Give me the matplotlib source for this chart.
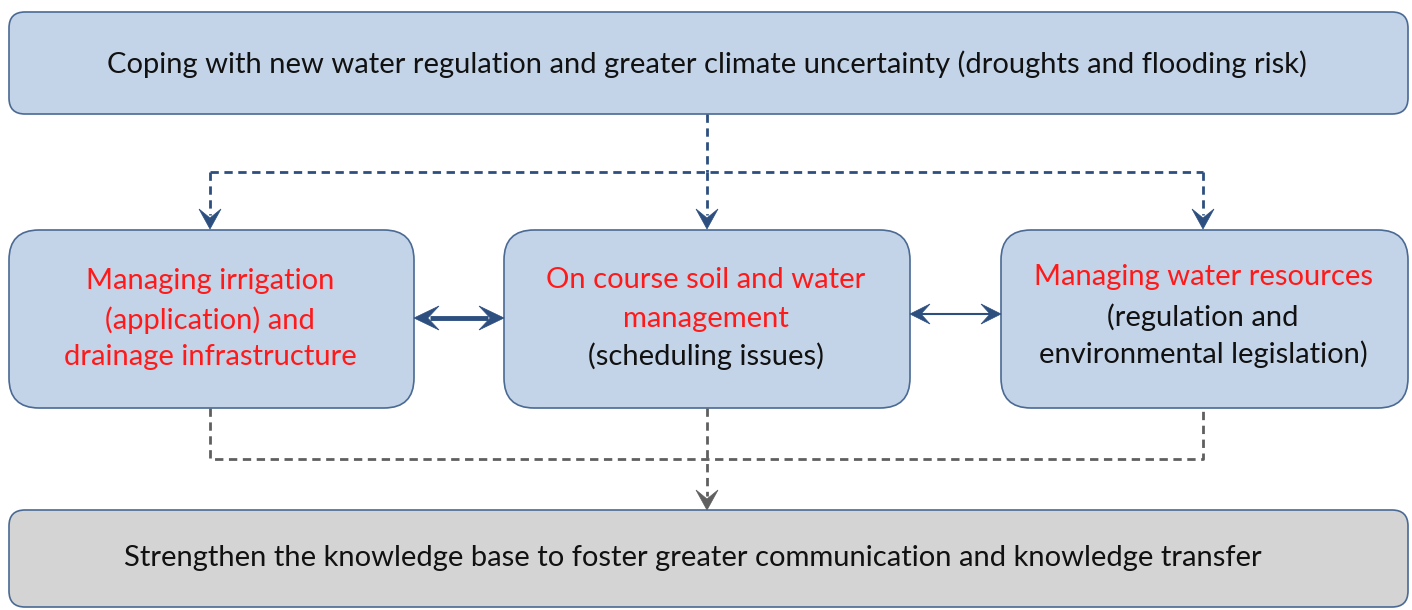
import matplotlib
matplotlib.use("Agg")
import matplotlib.pyplot as plt
from matplotlib.patches import FancyBboxPatch, Polygon

plt.rcParams['font.family'] = ['Lato', 'DejaVu Sans']

# ── 文本数据 ──────────────────────────────────────────────
top_text = "Coping with new water regulation and greater climate uncertainty (droughts and flooding risk)"
bottom_text = "Strengthen the knowledge base to foster greater communication and knowledge transfer"

# 中间三个框：(文本, 颜色) 行列表
left_lines = [("Managing irrigation", "red"), ("(application) and", "red"),
              ("drainage infrastructure", "red")]
mid_lines = [("On course soil and water", "red"), ("management", "red"),
             ("(scheduling issues)", "black")]
right_lines = [("Managing water resources", "red"), ("(regulation and", "black"),
               ("environmental legislation)", "black")]

BLUE_FILL = "#c4d4e8"
GRAY_FILL = "#d4d4d4"
EDGE = "#4a6a94"
ARROW_BLUE = "#2c4f80"
ARROW_GRAY = "#5f5f5f"

W, H = 1412, 610
fig = plt.figure(figsize=(W / 100, H / 100), dpi=100)
ax = fig.add_axes([0, 0, 1, 1])
ax.set_xlim(0, W)
ax.set_ylim(H, 0)
ax.axis("off")


def box(x0, y0, x1, y1, fill, r):
    p = FancyBboxPatch((x0, y0), x1 - x0, y1 - y0,
                       boxstyle=f"round,pad=0,rounding_size={r}",
                       fc=fill, ec=EDGE, lw=1.2, zorder=2)
    ax.add_patch(p)


def head(x, y, dx, dy, color, size=20, width=11):
    # stealth 样式箭头，尖端在 (x, y)，方向 (dx, dy)
    px, py = -dy, dx
    bx, by = x - dx * size, y - dy * size
    nx, ny = x - dx * size * 0.55, y - dy * size * 0.55
    pts = [(x, y), (bx + px * width, by + py * width), (nx, ny),
           (bx - px * width, by - py * width)]
    ax.add_patch(Polygon(pts, closed=True, fc=color, ec=color, lw=0.5, zorder=4))


# ── 框 ──
box(9, 12, 1408, 114, BLUE_FILL, 16)
box(9, 230, 414, 408, BLUE_FILL, 30)
box(504, 230, 910, 408, BLUE_FILL, 30)
box(1001, 230, 1408, 408, BLUE_FILL, 30)
box(9, 510, 1408, 607, GRAY_FILL, 16)

fs = 21
ax.text(707, 64, top_text, ha="center", va="center", fontsize=fs, color="#111111", zorder=5)
ax.text(693, 558, bottom_text, ha="center", va="center", fontsize=fs, color="#111111", zorder=5)

for cx, lines, ys in [(210, left_lines, [281, 320, 357]),
                      (706, mid_lines, [280, 319, 356]),
                      (1203, right_lines, [277, 317, 354])]:
    for (txt, col), y in zip(lines, ys):
        ax.text(cx, y, txt, ha="center", va="center", fontsize=fs,
                color="#ff1a1a" if col == "red" else "#111111", zorder=5)

# ── 上方虚线箭头 ──
dash = dict(ls=(0, (3, 2)), lw=2.0, zorder=3)
ax.plot([707, 707], [114, 172], color=ARROW_BLUE, **dash)
ax.plot([210, 1203], [172, 172], color=ARROW_BLUE, **dash)
for x in [210, 707, 1203]:
    ax.plot([x, x], [172, 215], color=ARROW_BLUE, **dash)
    head(x, 229, 0, 1, ARROW_BLUE)

# ── 双向箭头 ──
ax.plot([430, 488], [318, 318], color=ARROW_BLUE, lw=3.5, zorder=3, solid_capstyle="butt")
head(414, 318, -1, 0, ARROW_BLUE, size=25, width=12)
head(504, 318, 1, 0, ARROW_BLUE, size=25, width=12)
ax.plot([922, 989], [314, 314], color=ARROW_BLUE, lw=1.5, zorder=3)
head(910, 314, -1, 0, ARROW_BLUE, size=20, width=10)
head(1001, 314, 1, 0, ARROW_BLUE, size=20, width=10)

# ── 下方灰色虚线 ──
ax.plot([210, 210, 1203, 1203], [408, 459, 459, 408], color=ARROW_GRAY, **dash)
ax.plot([707, 707], [408, 496], color=ARROW_GRAY, **dash)
head(707, 510, 0, 1, ARROW_GRAY)

fig.savefig("out.png", dpi=100, facecolor="white")
